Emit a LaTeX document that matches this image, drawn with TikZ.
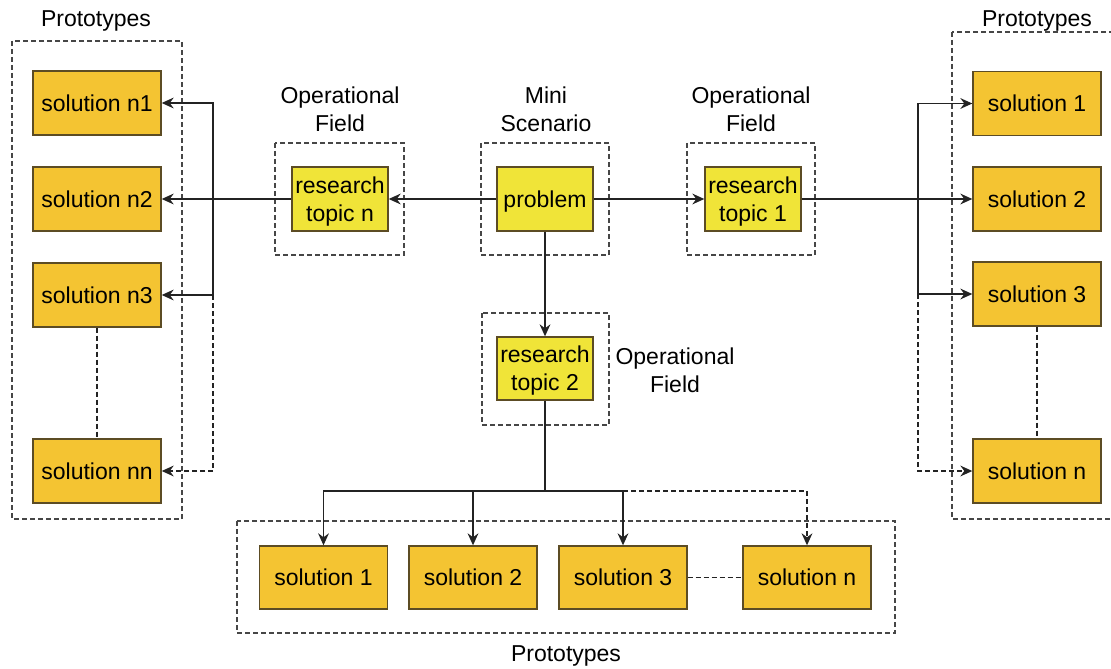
\documentclass[tikz,border=0pt]{standalone}
\usepackage{fontspec}
\setmainfont{Liberation Sans}
\usetikzlibrary{arrows.meta}

\definecolor{solfill}{RGB}{244,196,50}
\definecolor{topicfill}{RGB}{240,228,56}
\definecolor{boxedge}{RGB}{92,76,36}
\definecolor{groupedge}{RGB}{70,70,70}
\definecolor{linecol}{RGB}{35,35,35}

\tikzset{
  base/.style={draw=boxedge, line width=0.7pt, inner sep=0pt, align=center,
    font=\fontsize{11.5}{14}\selectfont, text=black},
  solbox/.style={base, fill=solfill, minimum width=64pt, minimum height=32pt},
  topicbox/.style={base, fill=topicfill, minimum width=48pt, minimum height=32pt, text depth=0pt},
  groupbox/.style={draw=groupedge, line width=0.6pt, dash pattern=on 2.5pt off 1.5pt},
  caption/.style={align=center, font=\fontsize{11.5}{14}\selectfont, text=black, inner sep=0pt},
  tip/.style={arrows={-Stealth[length=6pt, width=5.4pt, inset=2pt]}},
  conn/.style={draw=linecol, line width=0.65pt},
  arr/.style={conn, tip},
  dconn/.style={conn, dash pattern=on 2.5pt off 1.5pt},
}

\begin{document}
\begin{tikzpicture}[x=0.5pt, y=-0.5pt]
  \clip (0,0) rectangle (1111,668);
  \fill[white] (0,0) rectangle (1111,668);

  % dashed group frames
  \draw[groupbox] (12,41) rectangle (182,519);
  \draw[groupbox] (952,32) rectangle (1130,519);
  \draw[groupbox] (275,143) rectangle (404,255);
  \draw[groupbox] (481,143) rectangle (609,255);
  \draw[groupbox] (687,143) rectangle (815,255);
  \draw[groupbox] (482,313) rectangle (609,425);
  \draw[groupbox] (237,521) rectangle (895,633);

  % group captions
  \node[caption] (capL) at (96,21) {Prototypes};
  \node[caption] (capR) at (1037,21) {Prototypes};
  \node[caption] (capB) at (566,656) {Prototypes};
  \node[caption] (capTn) at (340,109) {Operational\\Field};
  \node[caption] (capP) at (546,109) {Mini\\Scenario};
  \node[caption] (capT1) at (751,109) {Operational\\Field};
  \node[caption] (capT2) at (675,370) {Operational\\Field};

  % centre column
  \node[topicbox] (problem) at (545,199) {problem};
  \node[topicbox] (topicn) at (340,199) {research\\topic n};
  \node[topicbox] (topic1) at (753,199) {research\\topic 1};
  \node[topicbox, minimum height=31.5pt] (topic2) at (545,368.5) {research\\topic 2};

  % left prototypes
  \node[solbox] (sn1) at (97,103) {solution n1};
  \node[solbox] (sn2) at (97,199) {solution n2};
  \node[solbox] (sn3) at (97,295) {solution n3};
  \node[solbox] (snn) at (97,471) {solution nn};

  % right prototypes
  \node[solbox] (r1) at (1037,103.5) {solution 1};
  \node[solbox] (r2) at (1037,199) {solution 2};
  \node[solbox] (r3) at (1037,294) {solution 3};
  \node[solbox] (rn) at (1037,471) {solution n};

  % bottom prototypes
  \node[solbox, minimum height=31.5pt] (b1) at (323.5,577.5) {solution 1};
  \node[solbox, minimum height=31.5pt] (b2) at (473,577.5) {solution 2};
  \node[solbox, minimum height=31.5pt] (b3) at (623,577.5) {solution 3};
  \node[solbox, minimum height=31.5pt] (bn) at (807,577.5) {solution n};

  % main flow
  \draw[arr] (problem.west) -- (topicn.east);
  \draw[arr] (topicn.west) -- (sn2.east);
  \draw[arr] (problem.east) -- (topic1.west);
  \draw[arr] (topic1.east) -- (r2.west);
  \draw[arr] (problem.south) -- (topic2.north);

  % left distribution bus
  \coordinate (lb) at (213,199);
  \draw[arr] (lb) |- (sn1.east);
  \draw[arr] (lb) |- (sn3.east);
  \draw[dconn, tip] (lb |- sn3.east) |- (snn.east);

  % right distribution bus
  \coordinate (rb) at (918,199);
  \draw[arr] (rb) |- (r1.west);
  \draw[arr] (rb) |- (r3.west);
  \draw[dconn, tip] (rb |- r3.west) |- (rn.west);

  % bottom distribution bus
  \coordinate (bb) at (545,491);
  \draw[conn] (topic2.south) -- (bb);
  \draw[arr] (bb) -| (b1.north);
  \draw[arr] (bb) -| (b2.north);
  \draw[arr] (bb) -| (b3.north);
  \draw[dconn, tip] (b3.north |- bb) -| (bn.north);

  % continuation links
  \draw[dconn] (sn3.south) -- (snn.north);
  \draw[dconn] (r3.south) -- (rn.north);
  \draw[dconn] (b3.east) -- (bn.west);
\end{tikzpicture}
\end{document}
